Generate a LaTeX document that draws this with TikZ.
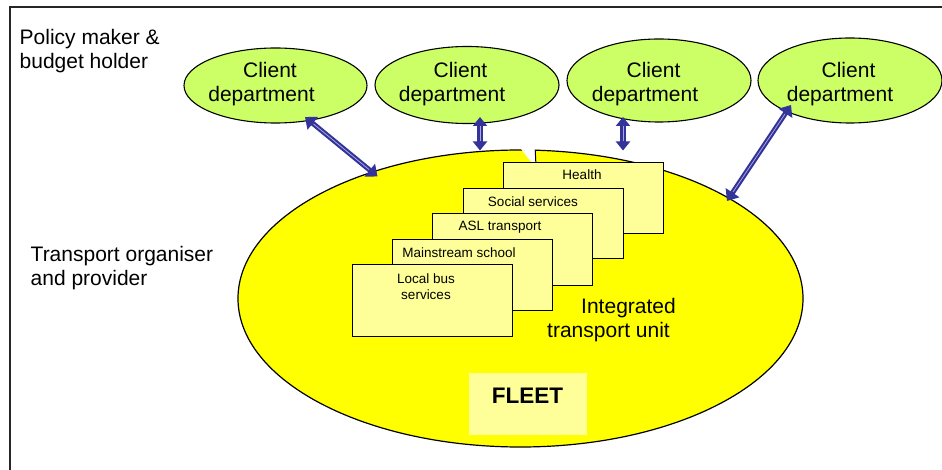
\documentclass[tikz,border=0pt]{standalone}
\usepackage{fontspec}
\setmainfont{Liberation Sans}
\usetikzlibrary{arrows.meta,shapes.geometric}

\definecolor{clientgreen}{HTML}{CCFF66}
\definecolor{unityellow}{HTML}{FFFF00}
\definecolor{cardyellow}{HTML}{FFFF99}
\definecolor{linkblue}{HTML}{333399}
\definecolor{linklight}{HTML}{A8A8DC}

\tikzset{
  biglabel/.style={inner sep=0pt, font=\fontsize{21}{24}\selectfont},
  client/.style={ellipse, draw=black, line width=1.1pt, fill=clientgreen,
    minimum width=184pt, inner sep=0pt},
  clienttext/.style={inner sep=0pt, align=center,
    font=\fontsize{21}{24}\selectfont},
  unit/.style={ellipse, draw=black, line width=1.2pt, fill=unityellow,
    minimum width=565pt, minimum height=297pt, inner sep=0pt},
  card/.style={rectangle, draw=black, line width=1pt, fill=cardyellow,
    anchor=north west, minimum width=160pt, inner sep=0pt},
  cardtext/.style={inner sep=0pt, align=center,
    font=\fontsize{13.5}{16}\selectfont},
  fleetbox/.style={rectangle, fill=cardyellow, minimum width=118pt,
    minimum height=62pt, inner sep=0pt},
  linkarrow/.style={draw=linkblue, line width=5pt,
    {Triangle[length=10pt,width=16pt]}-{Triangle[length=10pt,width=16pt]}},
  shortlink/.style={draw=linkblue, line width=6pt,
    {Triangle[length=9pt,width=14pt]}-{Triangle[length=9pt,width=14pt]}},
  linkstripe/.style={draw=linklight, line width=0.8pt,
    shorten >=11pt, shorten <=11pt},
  frame/.style={draw=black!85, line width=1.4pt}
}

\begin{document}
\begin{tikzpicture}[x=1pt,y=-1pt]
\useasboundingbox (0,0) rectangle (942,470);

% outer frame: left and top rules only
\coordinate (fbl) at (10,470);
\coordinate (ftl) at (10,7);
\coordinate (ftr) at (942,7);
\draw[frame] (fbl) -- (ftl) -- (ftr);

% side captions
\node[biglabel, anchor=west, align=left] (policy) at (19.5,51.5)
  {Policy maker \&\\budget holder};
\node[biglabel, anchor=west, align=left] (organiser) at (30.5,268.5)
  {Transport organiser\\and provider};

% the integrated transport unit
\node[unit] (unit) at (520.5,298.5) {};
% small notch in the top of the unit outline
\fill[white] (519.5,147) -- (536,147) -- (535.5,163) -- (532,163) -- cycle;
\draw[black, line width=1pt] (535.2,149.5) -- (535.8,162);

% client departments
\node[client, minimum width=183pt, minimum height=75pt] (c1) at (275.5,85.5) {};
\node[client, minimum height=77pt] (c2) at (467,85) {};
\node[client, minimum height=83pt] (c3) at (659,80.5) {};
\node[client, minimum height=85pt] (c4) at (850,80.5) {};

\node[clienttext] (ct1) at (261.5,84) {\kern17pt Client\\department};
\node[clienttext] (ct2) at (452,84) {\kern17pt Client\\department};
\node[clienttext] (ct3) at (645,84) {\kern17pt Client\\department};
\node[clienttext] (ct4) at (840,84) {\kern17pt Client\\department};

% service cards, back to front
\node[card, minimum height=71pt] (health) at (503,162) {};
\node[card, minimum height=70pt] (social) at (463,188) {};
\node[card, minimum height=72pt] (asl) at (432,213) {};
\node[card, minimum height=71pt] (mainstream) at (392,239) {};
\node[card, minimum height=72pt] (localbus) at (352,264) {};

\node[cardtext] (thealth) at (582,174.5) {Health};
\node[cardtext] (tsocial) at (533,201.5) {Social services};
\node[cardtext] (tasl) at (500,227) {ASL transport};
\node[cardtext] (tmain) at (459,252.5) {Mainstream school};
\node[cardtext] (tlocal) at (426,287) {Local bus\\services};

\node[biglabel, anchor=east, align=right] (itu) at (676,320)
  {Integrated\\transport unit\kern6pt};

% fleet
\node[fleetbox] (fleet) at (528,404) {};
\node[inner sep=0pt, font=\fontsize{22.5}{27}\selectfont\bfseries]
  (tfleet) at (527.5,396) {FLEET};

% two-way links between departments and the unit
\coordinate (a1s) at (305,117);
\coordinate (a1e) at (377.5,176.5);
\coordinate (a2s) at (480,117);
\coordinate (a2e) at (480,150.5);
\coordinate (a3s) at (623,117);
\coordinate (a3e) at (623,150.5);
\coordinate (a4s) at (791,105);
\coordinate (a4e) at (727,201);

\draw[linkarrow] (a1s) -- (a1e);
\draw[linkstripe] (a1s) -- (a1e);
\draw[shortlink] (a2s) -- (a2e);
\draw[linkstripe, shorten >=9pt, shorten <=9pt] (a2s) -- (a2e);
\draw[shortlink] (a3s) -- (a3e);
\draw[linkstripe, shorten >=9pt, shorten <=9pt] (a3s) -- (a3e);
\draw[linkarrow] (a4s) -- (a4e);
\draw[linkstripe] (a4s) -- (a4e);
\end{tikzpicture}
\end{document}
